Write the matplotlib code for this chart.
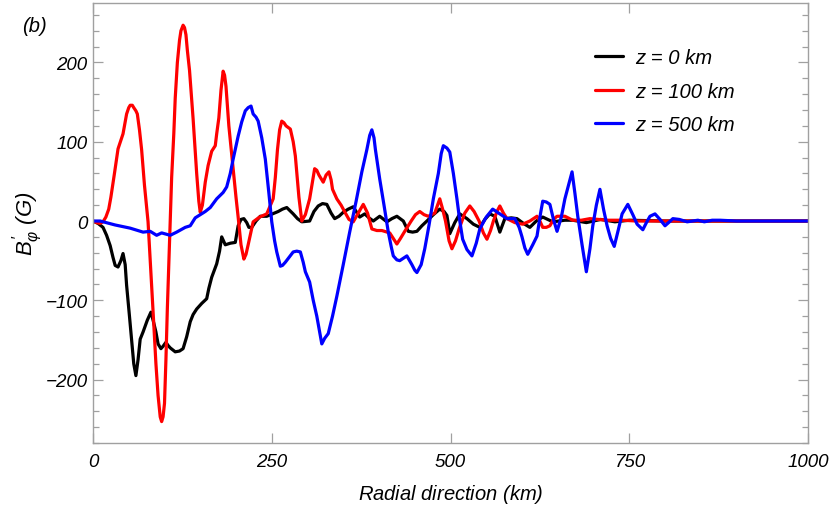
import numpy as np
import matplotlib
matplotlib.use("Agg")
import matplotlib.pyplot as plt
from matplotlib.ticker import MultipleLocator

z0_pts = [(0, 0), (7, -3), (14, -8), (19, -18), (24, -31), (28, -46), (31, -56), (35, -58),
          (39, -50), (42, -41), (45, -55), (47, -81), (51, -120), (54, -150), (57, -180),
          (60, -195), (63, -175), (66, -149), (70, -140), (76, -125), (81, -115), (84, -125),
          (88, -140), (91, -155), (95, -161), (98, -158), (102, -153), (105, -157), (108, -160),
          (115, -165), (121, -164), (126, -161), (131, -146), (136, -127), (140, -118),
          (145, -111), (152, -104), (159, -98), (162, -85), (166, -71), (173, -54), (177, -38),
          (180, -20), (185, -30), (192, -28), (199, -27), (203, -6), (207, 2), (211, 3),
          (215, -2), (218, -8), (222, -8), (228, 0), (234, 6), (243, 6), (251, 9), (259, 12),
          (265, 15), (271, 17), (280, 9), (286, 3), (292, -1), (303, 0), (309, 12), (315, 19),
          (321, 22), (327, 21), (333, 10), (338, 3), (344, 6), (350, 11), (357, 15), (364, 18),
          (368, 12), (373, 5), (380, 9), (386, 4), (392, 0), (401, 6), (411, -1), (418, 3),
          (425, 6), (434, 0), (441, -13), (447, -14), (453, -13), (460, -6), (467, 0),
          (476, 8), (485, 15), (491, 12), (495, 7), (499, -16), (506, -2), (513, 9), (523, 3),
          (532, -4), (541, -8), (548, 2), (555, 9), (562, 6), (569, -14), (576, 3), (585, 4),
          (593, 3), (602, -3), (611, -8), (620, 0), (629, 5), (636, 2), (643, -1), (660, 1),
          (671, 1), (690, -2), (710, 2), (730, -1), (750, 1), (800, 0), (900, 0), (1000, 0)]

z100_pts = [(0, 0), (5, -2), (10, -3), (14, -1), (18, 5), (22, 15), (25, 30), (30, 60),
            (35, 91), (42, 110), (47, 135), (50, 143), (52, 146), (55, 146), (57, 143),
            (60, 139), (62, 135), (65, 115), (68, 90), (72, 45), (77, -1), (81, -65), (85, -130),
            (88, -180), (91, -220), (94, -247), (96, -253), (98, -247), (100, -230), (102, -175),
            (104, -110), (106, -55), (108, 2), (110, 55), (113, 110), (115, 155), (118, 200),
            (121, 228), (123, 240), (126, 247), (128, 244), (130, 235), (132, 215), (135, 190),
            (140, 129), (145, 60), (148, 25), (150, 11), (153, 20), (157, 49), (161, 70),
            (166, 88), (171, 95), (173, 110), (176, 130), (179, 165), (182, 189), (184, 184),
            (186, 170), (190, 120), (196, 66), (200, 30), (203, 5), (207, -30), (211, -48),
            (214, -42), (217, -30), (224, -1), (233, 5), (243, 9), (252, 28), (255, 55),
            (258, 90), (261, 115), (264, 126), (267, 124), (270, 120), (276, 116), (280, 100),
            (283, 82), (288, 30), (292, 0), (297, 8), (303, 28), (307, 50), (310, 66), (313, 64),
            (316, 58), (322, 49), (326, 58), (330, 62), (333, 52), (335, 40), (341, 28),
            (347, 20), (353, 10), (358, 2), (364, -1), (371, 10), (378, 21), (384, 10),
            (390, -10), (397, -12), (404, -12), (415, -15), (420, -22), (425, -29), (430, -22),
            (436, -13), (445, 0), (451, 8), (457, 12), (463, 8), (469, 6), (478, 10), (485, 28),
            (489, 15), (493, 0), (498, -25), (502, -35), (507, -25), (512, -10), (520, 10),
            (527, 19), (533, 12), (540, 0), (546, -15), (551, -23), (556, -12), (560, 0),
            (565, 12), (569, 19), (574, 10), (579, 3), (590, -2), (601, -4), (611, 0), (621, 6),
            (625, 0), (629, -8), (634, -8), (639, -6), (644, 2), (649, 6), (660, 6), (671, 1),
            (683, 1), (695, 3), (707, 2), (719, 1), (740, 1), (760, 0), (800, 0), (1000, 0)]

z500_pts = [(0, 0), (10, 0), (31, -5), (52, -9), (70, -14), (80, -13), (89, -18), (96, -15),
            (108, -18), (117, -14), (129, -8), (136, -6), (143, 4), (150, 8), (157, 12),
            (164, 17), (173, 28), (182, 36), (187, 43), (192, 60), (196, 78), (203, 107),
            (208, 125), (213, 139), (217, 143), (221, 145), (224, 135), (228, 131), (231, 126),
            (236, 105), (241, 78), (246, 35), (250, -1), (254, -25), (257, -39), (262, -57),
            (265, -56), (269, -52), (275, -45), (280, -39), (285, -38), (290, -39), (294, -52),
            (297, -64), (303, -77), (308, -100), (313, -120), (317, -140), (320, -155),
            (324, -148), (329, -142), (335, -120), (341, -95), (350, -55), (359, -14), (368, 25),
            (376, 62), (383, 90), (387, 108), (390, 115), (393, 105), (395, 90), (401, 53),
            (407, 20), (413, -14), (417, -32), (420, -44), (425, -49), (429, -50), (434, -47),
            (439, -44), (446, -55), (450, -62), (453, -65), (459, -55), (464, -35), (470, -5),
            (476, 28), (483, 60), (487, 85), (490, 95), (495, 92), (499, 87), (504, 60),
            (509, 28), (513, 0), (517, -23), (523, -36), (530, -44), (536, -28), (541, -10),
            (550, 5), (559, 15), (569, 9), (579, 3), (590, 3), (596, -8), (600, -20), (604, -34),
            (608, -42), (615, -30), (621, -19), (626, 10), (629, 25), (634, 24), (639, 21),
            (644, 2), (649, -13), (655, 5), (660, 28), (665, 45), (670, 62), (674, 35), (678, 6),
            (684, -30), (690, -64), (695, -35), (699, -6), (704, 20), (709, 40), (714, 15),
            (719, -6), (724, -22), (729, -32), (735, -10), (740, 9), (748, 21), (755, 8),
            (761, -4), (769, -11), (774, -2), (779, 6), (786, 9), (793, 2), (800, -6), (805, -2),
            (811, 3), (820, 2), (831, -1), (846, 1), (855, -1), (866, 1), (877, 1), (900, 0),
            (1000, 0)]

labels = ['z = 0 km', 'z = 100 km', 'z = 500 km']
colors_ = ['black', 'red', 'blue']

plt.rcParams['font.family'] = ['Liberation Sans', 'DejaVu Sans']
plt.rcParams['font.style'] = 'italic'
plt.rcParams['mathtext.fontset'] = 'custom'
plt.rcParams['mathtext.rm'] = 'Liberation Sans'
plt.rcParams['mathtext.it'] = 'Liberation Sans:italic'
plt.rcParams['mathtext.bf'] = 'Liberation Sans:bold'

fig = plt.figure(figsize=(8.3, 5.06), dpi=100)
ax = fig.add_axes([93 / 830, 1 - 444 / 506, 715 / 830, 440 / 506])

for pts, lab, c in zip([z0_pts, z100_pts, z500_pts], labels, colors_):
    arr = np.array(pts, dtype=float)
    ax.plot(arr[:, 0], arr[:, 1], color=c, lw=2.3, label=lab,
            solid_joinstyle='round', solid_capstyle='round')

ax.set_xlim(0, 1000)
ax.set_ylim(-280, 275)
ax.set_xticks([0, 250, 500, 750, 1000])
ax.yaxis.set_major_locator(MultipleLocator(100))
ax.yaxis.set_minor_locator(MultipleLocator(20))

frame_c = '#a0a0a0'
for s in ax.spines.values():
    s.set_color(frame_c)
    s.set_linewidth(1.0)
ax.tick_params(which='both', direction='in', top=True, right=True, color=frame_c,
               labelsize=13.5, width=0.9)
ax.tick_params(which='major', length=7)
ax.tick_params(which='minor', length=4)
ax.tick_params(axis='x', pad=7)
ax.tick_params(axis='y', pad=4)

ax.set_xlabel(r'Radial direction $\mathrm{(}km\mathrm{)}$', fontsize=14.5, labelpad=9)
ax.set_ylabel(r'$B^{\prime}_{\varphi}\ \mathrm{(}G\mathrm{)}$', fontsize=16, labelpad=0)

fig.text(34 / 830, 1 - 27 / 506, '(b)', fontsize=14.5, ha='center', va='center')

ax.legend(loc='upper left', bbox_to_anchor=(585 / 830, 1 - 39 / 506),
          bbox_transform=fig.transFigure, frameon=False, fontsize=14.6,
          handlelength=1.35, handletextpad=0.62, labelspacing=0.72, borderpad=0)

fig.savefig('out.png', dpi=100)
